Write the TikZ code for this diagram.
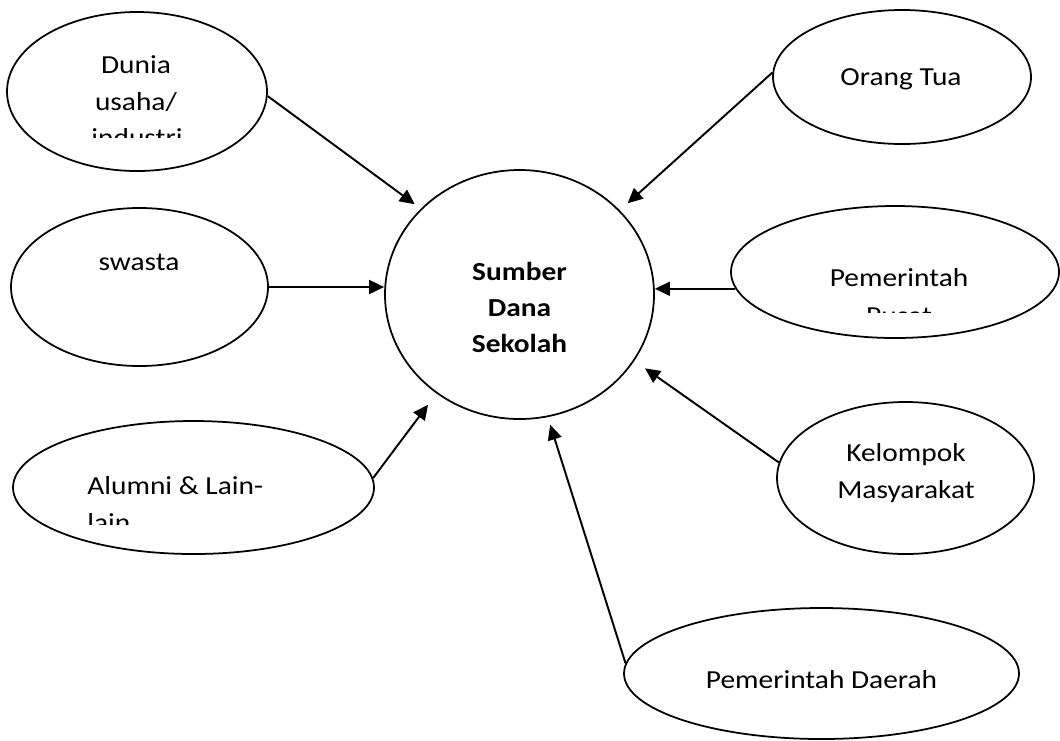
\documentclass[tikz,border=0pt]{standalone}
\usepackage{fontspec}
\setmainfont{Carlito}[FakeStretch=1.13]
\usetikzlibrary{shapes.geometric,arrows.meta}
\begin{document}
\begin{tikzpicture}[
  oval/.style={draw,ellipse,line width=1pt,inner sep=0pt},
  lbl/.style={anchor=base,inner sep=0pt,font=\fontsize{14.8pt}{18pt}\selectfont},
  lblb/.style={lbl,font=\fontsize{14.8pt}{18pt}\selectfont\bfseries},
  arr/.style={-{Triangle[length=0.3cm,width=0.28cm]},line width=1.1pt}]
\useasboundingbox (0,0) rectangle (21.2,-14.8);
% ellipses
\node[oval,minimum width=5.38cm,minimum height=4.98cm] (sumber) at (10.39,-5.89) {};
\node[oval,minimum width=5.2cm,minimum height=3.18cm] (dunia) at (2.74,-1.83) {};
\node[oval,minimum width=5.14cm,minimum height=3.16cm] (swasta) at (2.79,-5.74) {};
\node[oval,minimum width=7.22cm,minimum height=2.66cm] (alumni) at (3.87,-9.75) {};
\node[oval,minimum width=5.16cm,minimum height=2.68cm] (ortu) at (18.04,-1.54) {};
\node[oval,minimum width=6.56cm,minimum height=2.64cm] (pusat) at (17.9,-5.44) {};
\node[oval,minimum width=5.14cm,minimum height=3.04cm] (kelompok) at (18.11,-9.56) {};
\node[oval,minimum width=7.9cm,minimum height=2.62cm] (daerah) at (16.43,-13.47) {};
% texts
\node[lbl] (tDunia) at (2.72,-1.466) {Dunia};
\node[lbl] (tUsaha) at (2.72,-2.214) {usaha/};
\begin{scope}
\clip (1.5,-2.4) rectangle (4.0,-2.74);
\node[lbl] (tIndustri) at (2.74,-2.92) {industri};
\end{scope}
\node[lbl] (tSwasta) at (2.78,-5.40) {swasta};
\node[lbl,anchor=base west] (tAlumni) at (1.74,-9.88) {Alumni \& Lain-};
\begin{scope}
\clip (1.5,-10.1) rectangle (3.0,-10.48);
\node[lbl,anchor=base west] (tLain) at (1.74,-10.62) {lain};
\end{scope}
\node[lblb] (tSumber) at (10.39,-5.614) {Sumber};
\node[lblb] (tDana) at (10.39,-6.334) {Dana};
\node[lblb] (tSekolah) at (10.39,-7.054) {Sekolah};
\node[lbl] (tOrtu) at (18.02,-1.70) {Orang Tua};
\node[lbl] (tPemerintah) at (17.98,-5.734) {Pemerintah};
\begin{scope}
\clip (16.8,-6.0) rectangle (19.2,-6.24);
\node[lbl] (tPusat) at (17.98,-6.48) {Pusat};
\end{scope}
\node[lbl] (tKelompok) at (18.12,-9.234) {Kelompok};
\node[lbl] (tMasyarakat) at (18.12,-9.966) {Masyarakat};
\node[lbl] (tDaerah) at (16.43,-13.766) {Pemerintah Daerah};
% arrows
\draw[arr,shorten >=0.15cm] (dunia.358) -- (sumber.139);
\draw[arr] (swasta.east) -- (swasta.east -| sumber.west);
\draw[arr,shorten >=0.28cm] (alumni.3) -- (sumber.230);
\draw[arr,shorten >=0.21cm] (ortu.178) -- (sumber.40);
\draw[arr] (pusat.186) -- (pusat.186 -| sumber.east);
\draw[arr,shorten >=0.26cm] (kelompok.173) -- (sumber.330);
\draw[arr,shorten >=0.16cm] (daerah.177) -- (sumber.283);
\end{tikzpicture}
\end{document}
